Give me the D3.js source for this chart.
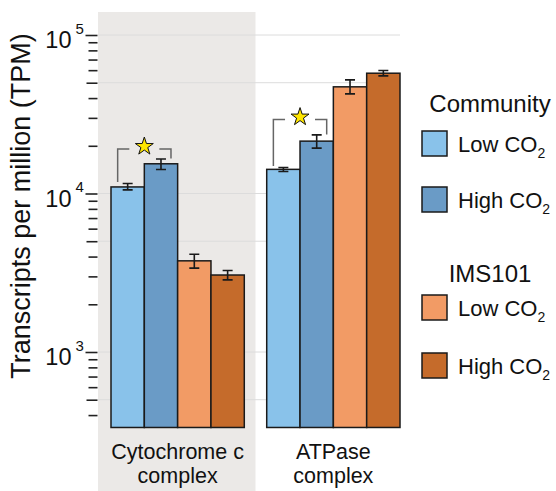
<!DOCTYPE html>
<html>
<head>
<meta charset="utf-8">
<script src="https://cdn.jsdelivr.net/npm/d3@7"></script>
<style>
  body { margin: 0; background: #fff; }
  svg { display: block; font-family: "Liberation Sans", Arial, sans-serif; }
  .grid { stroke: #dcdcdc; stroke-width: 1; }
  .bar { stroke: #1a1a1a; stroke-width: 1.5; }
  .err { stroke: #1a1a1a; stroke-width: 1.6; fill: none; }
  .bracket { stroke: #666; stroke-width: 1.5; fill: none; }
</style>
</head>
<body>
<div id="chart"></div>
<script>
// complexes on the x axis
const complexes = ["Cytochrome c complex", "ATPase complex"];
const complexLines = [["Cytochrome c", "complex"], ["ATPase", "complex"]];

// series (community / IMS101 at low / high CO2)
const series = ["commLow", "commHigh", "imsLow", "imsHigh"];
const seriesColors = ["#89c2ea", "#6a9bc6", "#f29b65", "#c56b2b"];

// mean TPM per complex, in series order
const cytoValues = [11000, 15400, 3760, 3060];
const atpValues = [14200, 21400, 47100, 57400];

// error bar ranges [low, high]
const cytoErr = [[10540, 11560], [14170, 16520], [3380, 4140], [2850, 3270]];
const atpErr = [[13780, 14590], [19320, 23430], [42500, 52100], [55200, 59700]];

// significance brackets: complex, the two series compared, bracket height (TPM)
const sigComplex = ["Cytochrome c complex", "ATPase complex"];
const sigPairs = [["commLow", "commHigh"], ["commLow", "commHigh"]];
const sigHeight = [19100, 29300];

// y ticks
const majorTicks = [1e3, 1e4, 1e5];
const halfTicks = [500, 5000, 50000];
const minorTicks = [400, 600, 700, 800, 900, 2000, 3000, 4000, 6000, 7000, 8000, 9000,
  20000, 30000, 40000, 60000, 70000, 80000, 90000];
const floorValue = 334;

// legend
const legendGroups = ["Community", "IMS101"];
const legendLabels = ["Low CO", "High CO", "Low CO", "High CO"];

const config = { width: 556, height: 491 };

const svg = d3.select('#chart')
  .append('svg')
  .attr('width', config.width)
  .attr('height', config.height);

const y = d3.scaleLog()
  .domain([1e3, 1e5])
  .range([352, 35]);

const x0 = d3.scaleBand()
  .domain(complexes)
  .range([111, 400])
  .paddingInner(0.144)
  .paddingOuter(0);

const x1 = d3.scaleBand()
  .domain(series)
  .range([0, x0.bandwidth()]);

const color = d3.scaleOrdinal().domain(series).range(seriesColors);

const gap = x0.step() - x0.bandwidth();

// shaded background behind the first complex
svg.append('rect')
  .attr('x', x0(complexes[0]) - 13)
  .attr('y', 12)
  .attr('width', x0.bandwidth() + 13 + gap / 2)
  .attr('height', config.height - 12)
  .attr('fill', '#ebe9e7');

// grid lines
svg.selectAll('line.grid')
  .data(majorTicks.concat(halfTicks))
  .enter()
  .append('line')
  .attr('class', 'grid')
  .attr('x1', x0(complexes[0]) - 13)
  .attr('x2', x0(complexes[1]) + x0.bandwidth())
  .attr('y1', d => y(d))
  .attr('y2', d => y(d));

// bars
const rows = complexes.map((c, i) => ({
  complex: c,
  values: i === 0 ? cytoValues : atpValues,
  err: i === 0 ? cytoErr : atpErr,
}));

const groups = svg.selectAll('g.complex')
  .data(rows)
  .enter()
  .append('g')
  .attr('class', 'complex')
  .attr('transform', d => `translate(${x0(d.complex)},0)`);

groups.selectAll('rect')
  .data(d => d.values.map((v, j) => ({ key: series[j], value: v, err: d.err[j] })))
  .enter()
  .append('rect')
  .attr('class', 'bar')
  .attr('x', d => x1(d.key))
  .attr('y', d => y(d.value))
  .attr('width', x1.bandwidth())
  .attr('height', d => y(floorValue) - y(d.value))
  .attr('fill', d => color(d.key));

// error bars
const cap = 5;
const errG = groups.selectAll('g.err')
  .data(d => d.values.map((v, j) => ({ key: series[j], err: d.err[j] })))
  .enter()
  .append('g')
  .attr('class', 'err')
  .attr('transform', d => `translate(${x1(d.key) + x1.bandwidth() / 2},0)`);

errG.append('path')
  .attr('d', d => `M0,${y(d.err[0])}V${y(d.err[1])}`
    + `M${-cap},${y(d.err[0])}H${cap}`
    + `M${-cap},${y(d.err[1])}H${cap}`);

// significance brackets with stars
sigComplex.forEach((c, i) => {
  const row = rows[complexes.indexOf(c)];
  const a = series.indexOf(sigPairs[i][0]);
  const b = series.indexOf(sigPairs[i][1]);
  const xa = x0(c) + x1(series[a]) + x1.bandwidth() / 2 - 10;
  const xb = x0(c) + x1(series[b]) + x1.bandwidth() / 2 + 10;
  const yt = y(sigHeight[i]);
  const mid = (xa + xb) / 2;
  svg.append('path')
    .attr('class', 'bracket')
    .attr('d', `M${xa},${y(row.err[a][1]) - 1.5}V${yt}H${mid - 15}`
      + `M${mid + 15},${yt}H${xb}V${y(row.err[b][1]) - 0.5}`);
  svg.append('path')
    .attr('d', d3.symbol().type(d3.symbolStar).size(100)())
    .attr('transform', `translate(${mid},${yt - 2.5})`)
    .attr('fill', '#ffe600')
    .attr('stroke', '#111')
    .attr('stroke-width', 1);
});

// y axis
const axisX = x0(complexes[0]) - 13.5;
const minorAxis = d3.axisLeft(y).tickValues(minorTicks).tickSize(9).tickFormat('');
const halfAxis = d3.axisLeft(y).tickValues(halfTicks).tickSize(11).tickFormat('');
const majorAxis = d3.axisLeft(y).tickValues(majorTicks).tickSize(12).tickPadding(5)
  .tickFormat(d => '10');

[minorAxis, halfAxis, majorAxis].forEach(ax => {
  const g = svg.append('g')
    .attr('transform', `translate(${axisX},0)`)
    .call(ax);
  g.select('.domain').remove();
  g.selectAll('.tick line').attr('stroke', '#222').attr('stroke-width', 1.6);
});

svg.selectAll('.tick text')
  .filter(function () { return this.textContent === '10'; })
  .attr('font-size', 23.5)
  .attr('font-family', '"Liberation Sans", Arial, sans-serif')
  .attr('fill', '#111')
  .attr('dx', -9)
  .attr('dy', '0.55em')
  .each(function (d) {
    d3.select(this.parentNode).append('text')
      .attr('x', -22)
      .attr('y', -2)
      .attr('font-size', 15)
      .attr('font-family', '"Liberation Sans", Arial, sans-serif')
      .attr('fill', '#111')
      .attr('text-anchor', 'start')
      .text(Math.round(Math.log10(d)));
  });

// axis title
svg.append('text')
  .attr('transform', 'translate(30,206) rotate(-90)')
  .attr('text-anchor', 'middle')
  .attr('font-size', 27)
  .attr('fill', '#111')
  .text('Transcripts per million (TPM)');

// category labels
complexes.forEach((c, i) => {
  complexLines[i].forEach((line, k) => {
    svg.append('text')
      .attr('x', x0(c) + x0.bandwidth() / 2)
      .attr('y', 459 + k * 24)
      .attr('text-anchor', 'middle')
      .attr('font-size', 21.5)
      .attr('fill', '#111')
      .text(line);
  });
});

// legend
const legendTitleY = [112, 282];
const legendKeyY = [131, 187, 295, 353];
legendGroups.forEach((name, i) => {
  svg.append('text')
    .attr('x', 490)
    .attr('y', legendTitleY[i])
    .attr('text-anchor', 'middle')
    .attr('font-size', 24)
    .attr('fill', '#111')
    .text(name);
});

series.forEach((s, j) => {
  svg.append('rect')
    .attr('class', 'bar')
    .attr('x', 422)
    .attr('y', legendKeyY[j])
    .attr('width', 25)
    .attr('height', 25)
    .attr('fill', color(s));
  const t = svg.append('text')
    .attr('x', 458)
    .attr('y', legendKeyY[j] + 21)
    .attr('font-size', 22)
    .attr('fill', '#111');
  t.append('tspan').text(legendLabels[j]);
  t.append('tspan')
    .attr('font-size', 14)
    .attr('dy', 6)
    .text('2');
});
</script>
</body>
</html>
